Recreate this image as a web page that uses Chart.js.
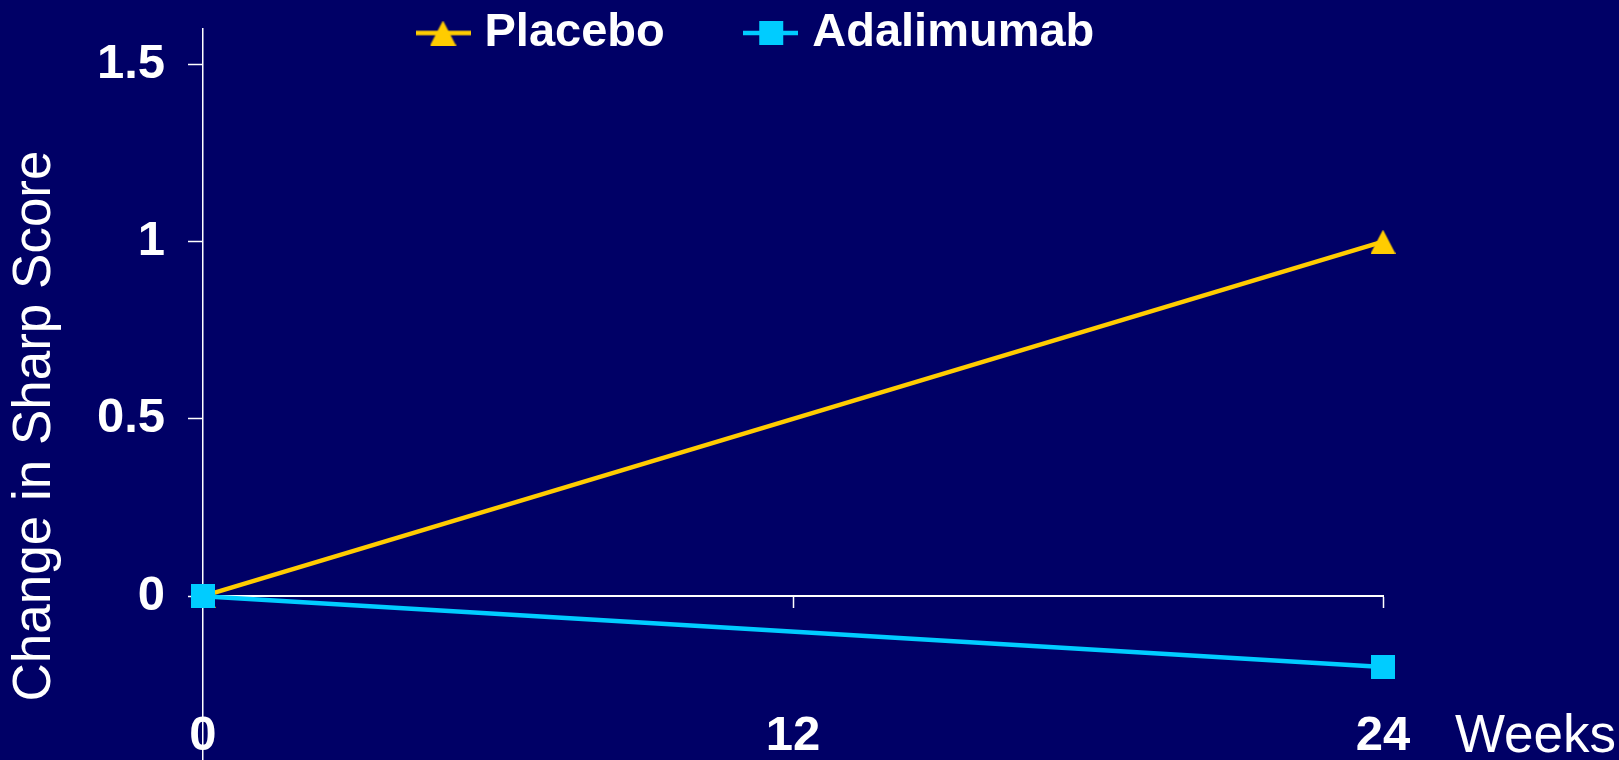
<!DOCTYPE html>
<html>
<head>
<meta charset="utf-8">
<title>Change in Sharp Score</title>
<script src="https://cdn.jsdelivr.net/npm/chart.js@4.4.0/dist/chart.umd.min.js"></script>
<style>
  html, body { margin: 0; padding: 0; background: #000066; }
  #wrap { width: 1619px; height: 760px; position: relative; }
  canvas { display: block; }
</style>
</head>
<body>
<div id="wrap"><canvas id="chart" width="1619" height="760"></canvas></div>
<script>
// ---- data ----
const weeks = [0, 24];
const placebo = [0, 1.0];
const adalimumab = [0, -0.2];
const seriesNames = ['Placebo', 'Adalimumab'];
const xTickValues = [0, 12, 24];
const yTickValues = [0, 0.5, 1, 1.5];
const yAxisTitle = 'Change in Sharp Score';
const xAxisUnit = 'Weeks';

// ---- styling ----
const BG = '#000066';
const GOLD = '#FFCC00';
const CYAN = '#00CCFF';
const WHITE = '#FFFFFF';
const FONT = '"Liberation Sans", Arial, Helvetica, sans-serif';

Chart.defaults.font.family = FONT;
Chart.defaults.color = WHITE;

// plot frame in canvas pixels (bottom runs past the canvas edge so the
// y axis continues down to the bottom of the picture)
const PLOT = { top: 29, bottom: 823, left: 203, right: 1383 };

// marker sprites (bounding-box centred on the data point)
function triangleSprite(color, w, h) {
  const c = document.createElement('canvas');
  c.width = w; c.height = h;
  const g = c.getContext('2d');
  g.fillStyle = color;
  g.beginPath();
  g.moveTo(w / 2, 0);
  g.lineTo(w, h);
  g.lineTo(0, h);
  g.closePath();
  g.fill();
  return c;
}
function squareSprite(color, s) {
  const c = document.createElement('canvas');
  c.width = s; c.height = s;
  const g = c.getContext('2d');
  g.fillStyle = color;
  g.fillRect(0, 0, s, s);
  return c;
}
// legend swatch: short line segment with the marker in the middle
function legendSwatch(color, marker, len) {
  const h = Math.max(marker.height, 6);
  const c = document.createElement('canvas');
  c.width = len; c.height = h;
  const g = c.getContext('2d');
  g.strokeStyle = color;
  g.lineWidth = 4.5;
  g.beginPath();
  g.moveTo(0, h / 2);
  g.lineTo(len, h / 2);
  g.stroke();
  g.drawImage(marker, (len - marker.width) / 2, (h - marker.height) / 2);
  return c;
}

const triMarker = triangleSprite(GOLD, 25, 24);
const sqMarker = squareSprite(CYAN, 24);
const swatches = [legendSwatch(GOLD, triangleSprite(GOLD, 26, 25), 55), legendSwatch(CYAN, sqMarker, 55)];

const toPoints = (xs, ys) => xs.map((x, i) => ({ x: x, y: ys[i] }));

const LEGEND_FONT = 47;
const LEGEND_GAP = 88;

// pins the plot frame (and the two scales) to PLOT after the layout pass
const plotFrame = {
  id: 'plotFrame',
  afterLayout(chart) {
    const a = chart.chartArea;
    a.top = PLOT.top; a.bottom = PLOT.bottom;
    a.left = PLOT.left; a.right = PLOT.right;
    a.width = PLOT.right - PLOT.left; a.height = PLOT.bottom - PLOT.top;
    const ys = chart.scales.y;
    ys.top = PLOT.top; ys.bottom = PLOT.bottom; ys.height = a.height;
    ys.configure();
    const xs = chart.scales.x;
    xs.left = PLOT.left; xs.right = PLOT.right; xs.width = a.width;
    xs.configure();
  }
};

// legend row sits at the very top, over the plot's upper margin
const legendPlacement = {
  id: 'legendPlacement',
  afterLayout(chart) {
    const lg = chart.legend;
    if (!lg) return;
    const p = lg.options.labels.padding;
    lg.left = 425 - p;
    lg.right = lg.left + 1150;
    lg.top = 33 - p - LEGEND_FONT / 2;
    lg.bottom = lg.top + 2 * p + LEGEND_FONT + 10;
    lg.width = lg.right - lg.left;
    lg.height = lg.bottom - lg.top;
  }
};

// unit label to the right of the last week tick
const unitLabel = {
  id: 'unitLabel',
  afterDraw(chart) {
    const ctx = chart.ctx;
    const xs = chart.scales.x;
    ctx.save();
    ctx.font = '53px ' + FONT;
    ctx.fillStyle = WHITE;
    ctx.textAlign = 'left';
    ctx.textBaseline = 'alphabetic';
    ctx.fillText(xAxisUnit, xs.right + 72, 752);
    ctx.restore();
  }
};

const background = {
  id: 'background',
  beforeDraw(chart) {
    const ctx = chart.ctx;
    ctx.save();
    ctx.fillStyle = BG;
    ctx.fillRect(0, 0, chart.width, chart.height);
    ctx.restore();
  }
};

const chart = new Chart(document.getElementById('chart'), {
  type: 'line',
  data: {
    datasets: [
      {
        label: seriesNames[0],
        data: toPoints(weeks, placebo),
        borderColor: GOLD,
        backgroundColor: GOLD,
        borderWidth: 4.5,
        pointStyle: triMarker,
        pointRadius: 12,
        pointHoverRadius: 12,
        fill: false,
        tension: 0,
        clip: false,
        order: 1
      },
      {
        label: seriesNames[1],
        data: toPoints(weeks, adalimumab),
        borderColor: CYAN,
        backgroundColor: CYAN,
        borderWidth: 4.5,
        pointStyle: sqMarker,
        pointRadius: 12,
        pointHoverRadius: 12,
        fill: false,
        tension: 0,
        clip: false,
        order: 0
      }
    ]
  },
  options: {
    responsive: false,
    animation: false,
    devicePixelRatio: 1,
    layout: { autoPadding: false, padding: { top: 29, left: 0, right: 236, bottom: 0 } },
    plugins: {
      tooltip: { enabled: false },
      legend: {
        display: true,
        position: 'top',
        align: 'start',
        maxHeight: 1,
        labels: {
          usePointStyle: true,
          boxWidth: 36,
          padding: LEGEND_GAP,
          color: WHITE,
          font: { size: LEGEND_FONT, weight: 'bold', family: FONT },
          generateLabels(chart) {
            return chart.data.datasets.map((ds, i) => ({
              text: ds.label,
              pointStyle: swatches[i],
              fillStyle: 'transparent',
              strokeStyle: 'transparent',
              lineWidth: 0,
              fontColor: WHITE,
              hidden: false,
              datasetIndex: i
            }));
          }
        }
      }
    },
    scales: {
      x: {
        type: 'linear',
        position: { y: 0 },
        min: xTickValues[0],
        max: xTickValues[xTickValues.length - 1],
        afterBuildTicks(scale) { scale.ticks = xTickValues.map(v => ({ value: v })); },
        afterFit(scale) { scale.height = 0; scale.paddingLeft = 0; scale.paddingRight = 0; },
        border: { display: true, color: WHITE, width: 2 },
        grid: { display: true, drawOnChartArea: false, drawTicks: true, tickLength: 11, tickColor: WHITE, tickWidth: 1.5 },
        ticks: {
          color: WHITE,
          padding: 100,
          maxRotation: 0,
          font: { size: 49, weight: 'bold', family: FONT },
          callback: v => String(v)
        },
        title: { display: false }
      },
      y: {
        type: 'linear',
        position: 'left',
        min: -0.64,
        max: 1.6,
        afterBuildTicks(scale) { scale.ticks = yTickValues.map(v => ({ value: v })); },
        afterFit(scale) { scale.width = PLOT.left; scale.paddingTop = 0; scale.paddingBottom = 0; },
        border: { display: true, color: WHITE, width: 1.5 },
        grid: { display: true, drawOnChartArea: false, drawTicks: true, tickLength: 15, tickColor: WHITE, tickWidth: 1.5 },
        ticks: {
          color: WHITE,
          padding: 23,
          font: { size: 49, weight: 'bold', family: FONT },
          callback: v => String(v)
        },
        title: {
          display: true,
          text: yAxisTitle,
          color: WHITE,
          padding: { top: 4, bottom: 0 },
          font: { size: 53, weight: 'normal', family: FONT }
        }
      }
    }
  },
  plugins: [background, plotFrame, legendPlacement, unitLabel]
});
</script>
</body>
</html>
